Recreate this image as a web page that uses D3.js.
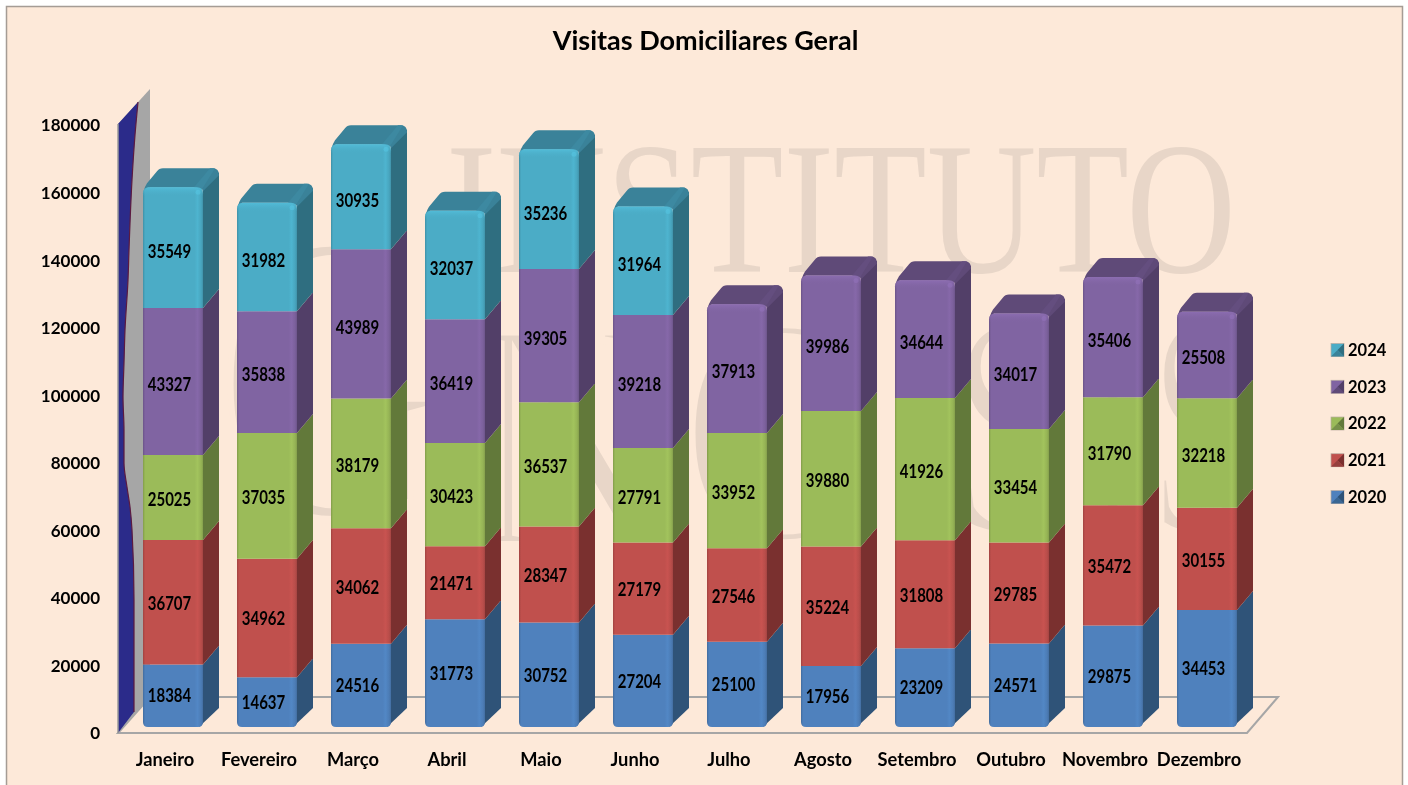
<!DOCTYPE html>
<html lang="pt">
<head>
<meta charset="utf-8">
<title>Visitas Domiciliares Geral</title>
<script src="https://cdnjs.cloudflare.com/ajax/libs/d3/7.8.5/d3.min.js"></script>
<style>
  html, body { margin: 0; padding: 0; background: #fff; }
  svg { display: block; filter: blur(0.35px); }
  text { font-family: Lato, "Open Sans", sans-serif; font-weight: 700; fill: #000; }
  .axis text { font-size: 17px; font-family: Lato, sans-serif; }
  .axis path, .axis line { display: none; }
  .val { font-size: 15px; text-anchor: middle; }
  .cat { font-size: 18.3px; text-anchor: middle; }
  .leg { font-size: 16.5px; }
  .wm { font-family: "Liberation Serif", serif; font-weight: 400; fill: #e8d6c8; }
  .wm2 { stroke: #fde9d9; stroke-width: 8px; paint-order: normal; }
</style>
</head>
<body>
<script>
// values
var months = ["Janeiro", "Fevereiro", "Março", "Abril", "Maio", "Junho", "Julho", "Agosto", "Setembro", "Outubro", "Novembro", "Dezembro"];
var years = ["2020", "2021", "2022", "2023", "2024"];
var v2020 = [18384, 14637, 24516, 31773, 30752, 27204, 25100, 17956, 23209, 24571, 29875, 34453];
var v2021 = [36707, 34962, 34062, 21471, 28347, 27179, 27546, 35224, 31808, 29785, 35472, 30155];
var v2022 = [25025, 37035, 38179, 30423, 36537, 27791, 33952, 39880, 41926, 33454, 31790, 32218];
var v2023 = [43327, 35838, 43989, 36419, 39305, 39218, 37913, 39986, 34644, 34017, 35406, 25508];
var v2024 = [35549, 31982, 30935, 32037, 35236, 31964, null, null, null, null, null, null];
var yTicks = [0, 20000, 40000, 60000, 80000, 100000, 120000, 140000, 160000, 180000];

var frontColors = ["#4f81bd", "#c0504d", "#9bbb59", "#8064a2", "#4bacc6"];
var sideColors = ["#2f5378", "#7a302f", "#62793a", "#523f68", "#2f6e80"];
var capColors = ["#3a6693", "#953f3d", "#78914a", "#5f4a78", "#3a8299"];

var w = 1408, h = 785;
var depthX = 16, depthY = 19;

var rows = months.map(function(m, i) {
  return { month: m, "2020": v2020[i], "2021": v2021[i], "2022": v2022[i], "2023": v2023[i], "2024": v2024[i] || 0 };
});
var stacked = d3.stack().keys(years)(rows);

var x = d3.scaleBand().domain(months).range([126, 1254]).paddingInner(34 / 94).paddingOuter(17 / 94);
// the 3d projection gives bars, value labels and axis labels slightly different scales
var y = d3.scaleLinear().domain([0, 180000]).range([727, 116]);
var yVal = d3.scaleLinear().domain([0, 180000]).range([727, 121]);
var yLabel = d3.scaleLinear().domain([0, 180000]).range([732, 124]);
var legendY = d3.scalePoint().domain(years.slice().reverse()).range([350, 497]);

var svg = d3.select("body").append("svg").attr("width", w).attr("height", h);
var defs = svg.append("defs");

// front face shading, one per series
frontColors.forEach(function(c, i) {
  var base = d3.color(c);
  var g = defs.append("linearGradient").attr("id", "front" + i);
  [[0, base.darker(0.5)], [0.035, base], [0.86, base], [0.91, base.brighter(0.12)], [0.97, base.darker(0.12)], [1, base.darker(0.45)]].forEach(function(s) {
    g.append("stop").attr("offset", s[0]).attr("stop-color", s[1]);
  });
  var b = defs.append("linearGradient").attr("id", "bevel" + i).attr("x2", 0).attr("y2", 1);
  b.append("stop").attr("offset", 0).attr("stop-color", base.brighter(0.25));
  b.append("stop").attr("offset", 1).attr("stop-color", base).attr("stop-opacity", 0);
});

// background panel
svg.append("rect").attr("x", 6).attr("y", 6).attr("width", 1397).attr("height", h).attr("fill", "#fde9d9");
svg.append("path").attr("d", "M6.5,785V6.5H1402.5V785").attr("fill", "none").attr("stroke", "#a59c95").attr("stroke-width", 1.5);

// watermark, letters of the second word shrink from left to right
var wmLetters = [
  { t: "G", x: 218, base: 516, size: 413, len: 222 },
  { t: "N", x: 470, base: 545, size: 326, len: 200 },
  { t: "O", x: 680, base: 540, size: 326, len: 210 },
  { t: "S", x: 950, base: 533, size: 320, len: 125 },
  { t: "I", x: 1090, base: 533, size: 320, len: 45 },
  { t: "S", x: 1150, base: 533, size: 320, len: 100 }
];
svg.selectAll("text.wm2").data(wmLetters).enter().append("text").attr("class", "wm wm2")
  .attr("x", function(d) { return d.x; })
  .attr("y", function(d) { return d.base; })
  .attr("font-size", function(d) { return d.size; })
  .attr("textLength", function(d) { return d.len; })
  .attr("lengthAdjust", "spacingAndGlyphs")
  .text(function(d) { return d.t; });
svg.append("text").attr("class", "wm").attr("x", 446).attr("y", 272).attr("font-size", 188)
  .attr("textLength", 790).attr("lengthAdjust", "spacingAndGlyphs").text("INSTITUTO");

// floor and wall
var floorY = yLabel(0) + 1;
svg.append("path")
  .attr("d", "M118," + floorY + "H1247L1278,697H150Z")
  .attr("fill", "none").attr("stroke", "#a6a6a6").attr("stroke-width", 2);
svg.append("path")
  .attr("d", "M118," + yLabel(180000) + "L150,89V697L118," + floorY + "Z")
  .attr("fill", "#a6a6a6");

var edge = [[138, 102], [135, 135], [132, 180], [129, 250], [128, 280], [125, 330], [124, 363], [123, 397], [124, 430], [124, 463], [127, 487], [130, 507], [132, 530], [134, 600], [134, 712]];
var edgeLine = d3.line().curve(d3.curveMonotoneY);
svg.append("path")
  .attr("d", "M118," + yLabel(180000) + "L" + edgeLine(edge).slice(1) + "L118," + floorY + "Z")
  .attr("fill", "#2b2b8a");
svg.append("path").attr("d", edgeLine(edge)).attr("fill", "none").attr("stroke", "#5c1a40").attr("stroke-width", 1.2);
svg.append("path").attr("d", "M118," + yLabel(180000) + "V" + floorY).attr("stroke", "#9a9a9a").attr("stroke-width", 1.5);

// front face outline with optional rounded top / bottom corners
function frontPath(x0, x1, yt, yb, rt, rb) {
  return "M" + (x0 + rt) + "," + yt + "H" + (x1 - rt) + "Q" + x1 + "," + yt + " " + x1 + "," + (yt + rt) +
    "V" + (yb - rb) + "Q" + x1 + "," + yb + " " + (x1 - rb) + "," + yb +
    "H" + (x0 + rb) + "Q" + x0 + "," + yb + " " + x0 + "," + (yb - rb) +
    "V" + (yt + rt) + "Q" + x0 + "," + yt + " " + (x0 + rt) + "," + yt + "Z";
}

function isTop(serie, d) {
  var i = years.indexOf(serie.key);
  var idx = months.indexOf(d.data.month);
  return d[1] > d[0] && (i === years.length - 1 || stacked[i + 1][idx][1] === stacked[i + 1][idx][0]);
}

var series = svg.selectAll("g.series").data(stacked).enter().append("g").attr("class", "series");

series.each(function(s, si) {
  var g = d3.select(this);
  var segs = s.filter(function(d) { return d[1] > d[0]; });

  // side faces
  g.selectAll("path.side").data(segs).enter().append("path").attr("class", "side")
    .attr("d", function(d) {
      var x1 = x(d.data.month) + x.bandwidth();
      var yb = y(d[0]), yt = y(d[1]);
      var start = si === 0 ? x1 - 4 : x1;
      var backTop = isTop(s, d) ? yt - depthY + 4 : yt - depthY;
      return "M" + start + "," + yb + "L" + (x1 + depthX) + "," + (yb - depthY) +
        "V" + backTop + "L" + x1 + "," + yt + "Z";
    })
    .attr("fill", sideColors[si]);

  // front faces
  g.selectAll("path.front").data(segs).enter().append("path").attr("class", "front")
    .attr("d", function(d) {
      var x0 = x(d.data.month);
      return frontPath(x0, x0 + x.bandwidth(), y(d[1]), y(d[0]), isTop(s, d) ? 6 : 0, si === 0 ? 5 : 0);
    })
    .attr("fill", "url(#front" + si + ")");

  // caps on the topmost segment of each bar
  var tops = segs.filter(function(d) { return isTop(s, d); });
  tops.forEach(function(d) {
    var x0 = x(d.data.month), x1 = x0 + x.bandwidth(), yt = y(d[1]);
    var xb0 = x0 + depthX, xb1 = x1 + depthX, yb = yt - depthY;
    g.append("path")
      .attr("d", "M" + (x0 + 1) + "," + (yt + 3) + "Q" + (x0 + 2) + "," + (yt - 1) + " " + (x0 + 4) + "," + (yt - 4) +
        "L" + (xb0 - 2) + "," + (yb + 3) + "Q" + xb0 + "," + yb + " " + (xb0 + 4) + "," + yb +
        "H" + (xb1 - 6) + "Q" + xb1 + "," + yb + " " + xb1 + "," + (yb + 7) +
        "L" + x1 + "," + (yt + 4) + "Q" + (x1 - 1) + "," + yt + " " + (x1 - 6) + "," + yt +
        "H" + (x0 + 5) + "Z")
      .attr("fill", capColors[si]);
    // rim between cap and side
    g.append("path")
      .attr("d", "M" + (x1 - 9) + "," + yt + "L" + (xb1 - 9) + "," + yb + "H" + (xb1 - 4) + "L" + (x1 - 1) + "," + (yt + 2) + "Z")
      .attr("fill", d3.color(capColors[si]).brighter(0.15));
    // bevel along the top of the front face
    g.append("path")
      .attr("d", frontPath(x0, x1, yt, yt + 9, 6, 0))
      .attr("fill", "url(#bevel" + si + ")");
    g.append("circle").attr("cx", x1 - 5).attr("cy", yt + 5).attr("r", 2.5)
      .attr("fill", d3.color(frontColors[si]).brighter(0.4)).attr("opacity", 0.55);
  });
});

// data labels, a bit stretched vertically like the original narrow face
series.each(function(s) {
  d3.select(this).selectAll("text.val").data(s.filter(function(d) { return d[1] > d[0]; })).enter()
    .append("text").attr("class", "val")
    .attr("transform", function(d) {
      return "translate(" + (x(d.data.month) + x.bandwidth() / 2 - 3.5) + "," + yVal((d[0] + d[1]) / 2) + ") scale(1,1.22)";
    })
    .attr("dy", "0.35em")
    .text(function(d) { return d[1] - d[0]; });
});

// y axis
svg.append("g").attr("class", "axis").attr("transform", "translate(100,1.5)")
  .call(d3.axisLeft(yLabel).tickValues(yTicks).tickSize(0).tickPadding(0).tickFormat(d3.format("d")));

// month labels
svg.selectAll("text.cat").data(months).enter().append("text").attr("class", "cat")
  .attr("x", function(d) { return x(d) + x.bandwidth() / 2 - 8; })
  .attr("y", 766)
  .text(function(d) { return d; });

// title
svg.append("text").attr("x", 705.5).attr("y", 50).attr("text-anchor", "middle").attr("font-size", 27)
  .text("Visitas Domiciliares Geral");

// legend
var legend = svg.selectAll("g.legend").data(years).enter().append("g").attr("class", "legend")
  .attr("transform", function(d) { return "translate(1331," + legendY(d) + ")"; });
legend.append("rect").attr("x", 0).attr("y", -6.5).attr("width", 13).attr("height", 13)
  .attr("fill", function(d, i) { return frontColors[i]; }).attr("stroke", "#b9aca2").attr("stroke-width", 0.7);
legend.append("path").attr("d", "M13,-6.5L6.5,0L13,6.5Z").attr("fill", function(d, i) { return sideColors[i]; });
legend.append("path").attr("d", "M0,6.5L6.5,0L13,6.5Z").attr("fill", function(d, i) { return capColors[i]; });
legend.append("text").attr("class", "leg").attr("x", 17).attr("dy", "0.35em").text(function(d) { return d; });
</script>
</body>
</html>
